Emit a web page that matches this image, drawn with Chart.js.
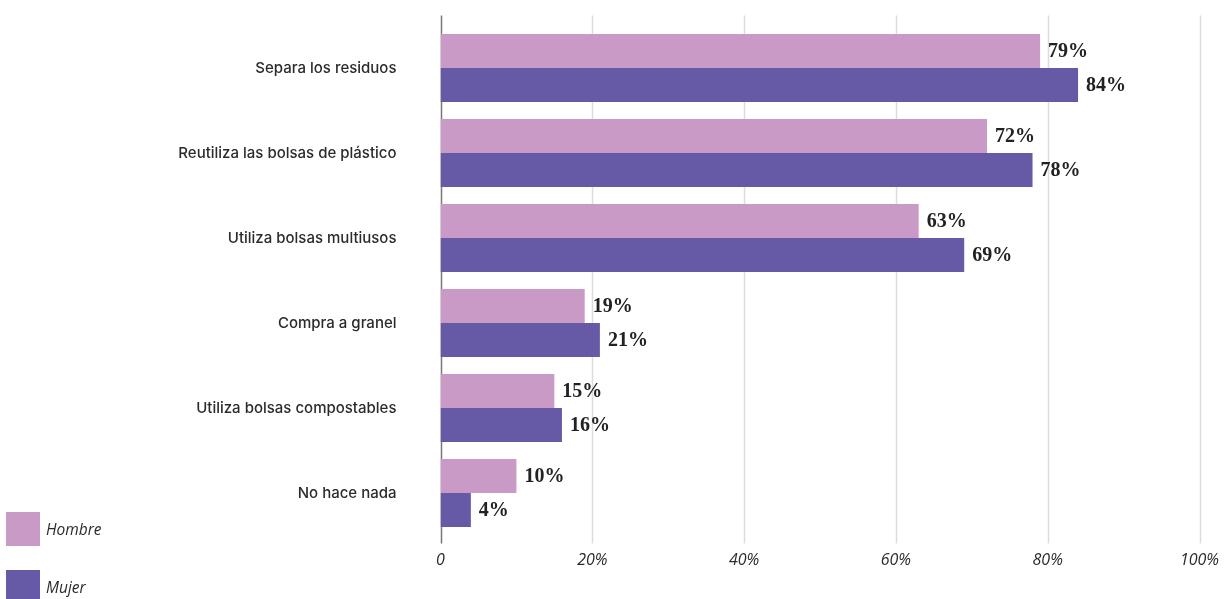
<!DOCTYPE html>
<html>
<head>
<meta charset="utf-8">
<script src="https://cdn.jsdelivr.net/npm/chart.js@4"></script>
<style>
  html, body { margin: 0; padding: 0; background: #fff; }
  .wrap { position: relative; width: 1224px; height: 599px; overflow: hidden; }
  .legend { position: absolute; left: 6px; top: 512px; font-family: "Open Sans", sans-serif; font-style: italic; font-size: 15.5px; color: #2b2b2b; }
  .legend__item { display: flex; align-items: center; height: 34px; margin-bottom: 24px; }
  .legend__dot { width: 34px; height: 34px; margin-right: 6px; }
</style>
</head>
<body>
<div class="wrap">
  <canvas id="chart" width="1224" height="599"></canvas>
  <div class="legend" id="legend"></div>
</div>
<script>
const categories = [
  "Separa los residuos",
  "Reutiliza las bolsas de plástico",
  "Utiliza bolsas multiusos",
  "Compra a granel",
  "Utiliza bolsas compostables",
  "No hace nada",
];
const hombre = [79, 72, 63, 19, 15, 10];
const mujer = [84, 78, 69, 21, 16, 4];
const seriesNames = ["Hombre", "Mujer"];
const seriesColors = ["#ca9ac7", "#665aa6"];
const xTicks = [0, 20, 40, 60, 80, 100];

// grid lines a bit taller than the plot area
const gridPlugin = {
  id: "gridPlugin",
  beforeDatasetsDraw(chart) {
    const { ctx, chartArea } = chart;
    const x = chart.scales.x;
    ctx.save();
    xTicks.forEach((v) => {
      const px = Math.round(x.getPixelForValue(v)) + 0.5;
      ctx.strokeStyle = v === 0 ? "#777" : "#dcdcdc";
      ctx.lineWidth = 1.5;
      ctx.beginPath();
      ctx.moveTo(px, chartArea.top - 10);
      ctx.lineTo(px, chartArea.bottom + 8);
      ctx.stroke();
    });
    ctx.restore();
  },
};

const valueLabels = {
  id: "valueLabels",
  afterDatasetsDraw(chart) {
    const { ctx } = chart;
    ctx.save();
    ctx.font = "bold 20px 'Liberation Serif', serif";
    ctx.fillStyle = "#222";
    ctx.textAlign = "left";
    ctx.textBaseline = "middle";
    chart.data.datasets.forEach((ds, i) => {
      chart.getDatasetMeta(i).data.forEach((bar, j) => {
        ctx.fillText(ds.data[j] + "%", bar.x + 8, bar.y + 1);
      });
    });
    ctx.restore();
  },
};

new Chart(document.getElementById("chart"), {
  type: "bar",
  data: {
    labels: categories,
    datasets: [
      { label: seriesNames[0], data: hombre, backgroundColor: seriesColors[0] },
      { label: seriesNames[1], data: mujer, backgroundColor: seriesColors[1] },
    ],
  },
  options: {
    indexAxis: "y",
    responsive: false,
    animation: false,
    layout: { padding: { top: 25.5, right: 24.5, bottom: 30, left: 0 } },
    datasets: { bar: { categoryPercentage: 0.8, barPercentage: 1, borderWidth: 0 } },
    scales: {
      x: {
        min: 0,
        max: 100,
        afterBuildTicks(scale) {
          scale.ticks = xTicks.map((v) => ({ value: v }));
        },
        afterFit(scale) { scale.height = 33.5; },
        // tick mark length used as the gap, lines themselves are hidden
        grid: { display: false, drawTicks: true, tickLength: 15 },
        border: { display: false },
        ticks: {
          padding: 0,
          color: "#2b2b2b",
          font: { family: "Open Sans", style: "italic", size: 16 },
          callback: (v) => (v === 0 ? "0" : v + "%"),
        },
      },
      y: {
        afterFit(scale) { scale.width = 440.5; },
        grid: { display: false, drawTicks: true, tickLength: 44 },
        border: { display: false },
        ticks: {
          padding: 0,
          color: "#2b2b2b",
          font: { family: "Inter", weight: "500", size: 15 },
        },
      },
    },
    plugins: {
      legend: { display: false },
      tooltip: { enabled: false },
    },
  },
  plugins: [gridPlugin, valueLabels],
});

const $legend = document.getElementById("legend");
seriesNames.forEach((name, i) => {
  const $item = document.createElement("div");
  $item.className = "legend__item";
  $item.innerHTML = `<span class="legend__dot" style="background:${seriesColors[i]}"></span><span>${name}</span>`;
  $legend.appendChild($item);
});
</script>
</body>
</html>
